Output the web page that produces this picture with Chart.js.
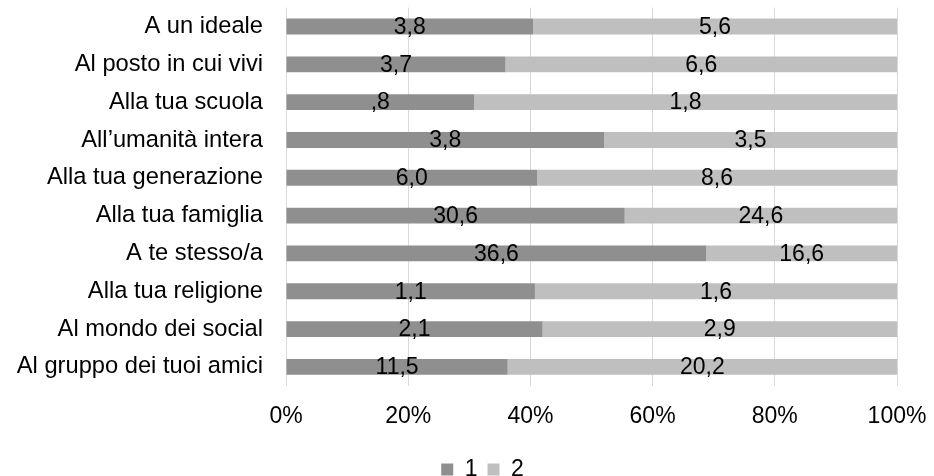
<!DOCTYPE html>
<html>
<head>
<meta charset="utf-8">
<script src="https://cdn.jsdelivr.net/npm/chart.js@4"></script>
<style>
html,body{margin:0;padding:0;background:#fff;}
#wrap{width:934px;height:476px;}
</style>
</head>
<body>
<div id="wrap"><canvas id="c" width="934" height="476"></canvas></div>
<script>
const categories = [
  "A un ideale",
  "Al posto in cui vivi",
  "Alla tua scuola",
  "All\u2019umanità intera",
  "Alla tua generazione",
  "Alla tua famiglia",
  "A te stesso/a",
  "Alla tua religione",
  "Al mondo dei social",
  "Al gruppo dei tuoi amici"
];
const seriesNames = ["1", "2"];
const series1 = [3.8, 3.7, 0.8, 3.8, 6.0, 30.6, 36.6, 1.1, 2.1, 11.5];
const series2 = [5.6, 6.6, 1.8, 3.5, 8.6, 24.6, 16.6, 1.6, 2.9, 20.2];
const xTickValues = [0, 20, 40, 60, 80, 100];

const raw = [series1, series2];
const share = raw.map(s => s.map((v, i) => v / (series1[i] + series2[i]) * 100));

function fmt(v) {
  let s = v.toFixed(1).replace('.', ',');
  if (s.startsWith('0,')) s = s.slice(1);
  return s;
}

const FONT = "'Liberation Sans', Arial, sans-serif";
Chart.defaults.font.family = FONT;
Chart.defaults.color = '#000';

const LEGEND_SHIFT = 34;

const labelPlugin = {
  id: 'segLabels',
  afterDatasetsDraw(chart) {
    const ctx = chart.ctx;
    ctx.save();
    ctx.font = "23px " + FONT;
    ctx.fillStyle = '#000';
    ctx.textAlign = 'center';
    ctx.textBaseline = 'middle';
    chart.data.datasets.forEach((ds, di) => {
      const meta = chart.getDatasetMeta(di);
      meta.data.forEach((bar, i) => {
        const cx = (bar.x + bar.base) / 2;
        ctx.fillText(fmt(raw[di][i]), cx, bar.y + 1);
      });
    });
    ctx.restore();
  }
};

const legendShift = {
  id: 'legendShift',
  afterLayout(chart) {
    if (chart.legend) {
      chart.legend.left += LEGEND_SHIFT;
      chart.legend.right += LEGEND_SHIFT;
    }
  }
};

new Chart(document.getElementById('c'), {
  type: 'bar',
  data: {
    labels: categories,
    datasets: [
      { label: seriesNames[0], data: share[0], backgroundColor: '#8f8f8f', borderWidth: 0 },
      { label: seriesNames[1], data: share[1], backgroundColor: '#bfbfbf', borderWidth: 0 }
    ]
  },
  options: {
    indexAxis: 'y',
    responsive: false,
    animation: false,
    devicePixelRatio: 1,
    layout: { padding: { left: 0, right: 37, top: 7.6, bottom: -15 } },
    datasets: { bar: { barPercentage: 0.42, categoryPercentage: 1 } },
    scales: {
      x: {
        stacked: true,
        min: 0, max: 100,
        afterBuildTicks(scale) { scale.ticks = xTickValues.map(v => ({ value: v })); },
        afterFit(scale) {
          scale.height = 62.2;
          scale.paddingLeft = 0; scale.paddingRight = 0;
        },
        ticks: {
          font: { size: 23 },
          color: '#000',
          padding: 17,
          maxRotation: 0,
          callback: v => v + '%'
        },
        grid: { color: '#d9d9d9', lineWidth: 1, drawTicks: false },
        border: { display: false }
      },
      y: {
        stacked: true,
        afterFit(scale) {
          scale.width = 286;
          scale.paddingTop = 0; scale.paddingBottom = 0;
        },
        ticks: { font: { size: 23.7 }, color: '#000', padding: 23 },
        grid: { display: false, drawTicks: false },
        border: { display: false }
      }
    },
    plugins: {
      legend: {
        position: 'bottom',
        labels: { boxWidth: 12, boxHeight: 12, font: { size: 23 }, color: '#000', padding: 10 }
      },
      tooltip: { enabled: false }
    }
  },
  plugins: [labelPlugin, legendShift]
});
</script>
</body>
</html>
